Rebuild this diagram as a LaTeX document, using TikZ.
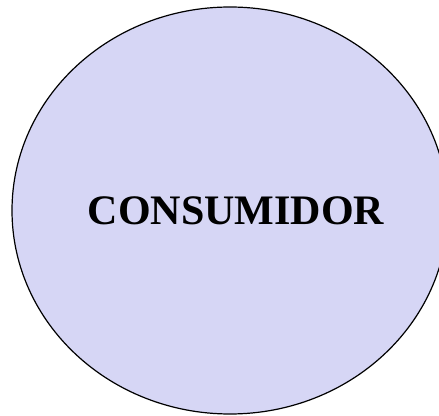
\documentclass[tikz,border=0pt]{standalone}
\usepackage{fontspec}
\setmainfont{Liberation Serif}
\definecolor{ConsFill}{RGB}{214,214,245}

\begin{document}
\begin{tikzpicture}[x=1pt,y=1pt]
  \useasboundingbox (0,0) rectangle (439,415);
  \begin{scope}
    \clip (0,0) rectangle (439,415);
    \draw[line width=1.2pt,fill=ConsFill] (230,204.5) ellipse [x radius=218,y radius=203.5];
  \end{scope}
  \node[font=\fontsize{42}{48}\selectfont\bfseries,inner sep=0pt,anchor=base] (cons) at (236,190) {CONSUMIDOR};
\end{tikzpicture}
\end{document}
